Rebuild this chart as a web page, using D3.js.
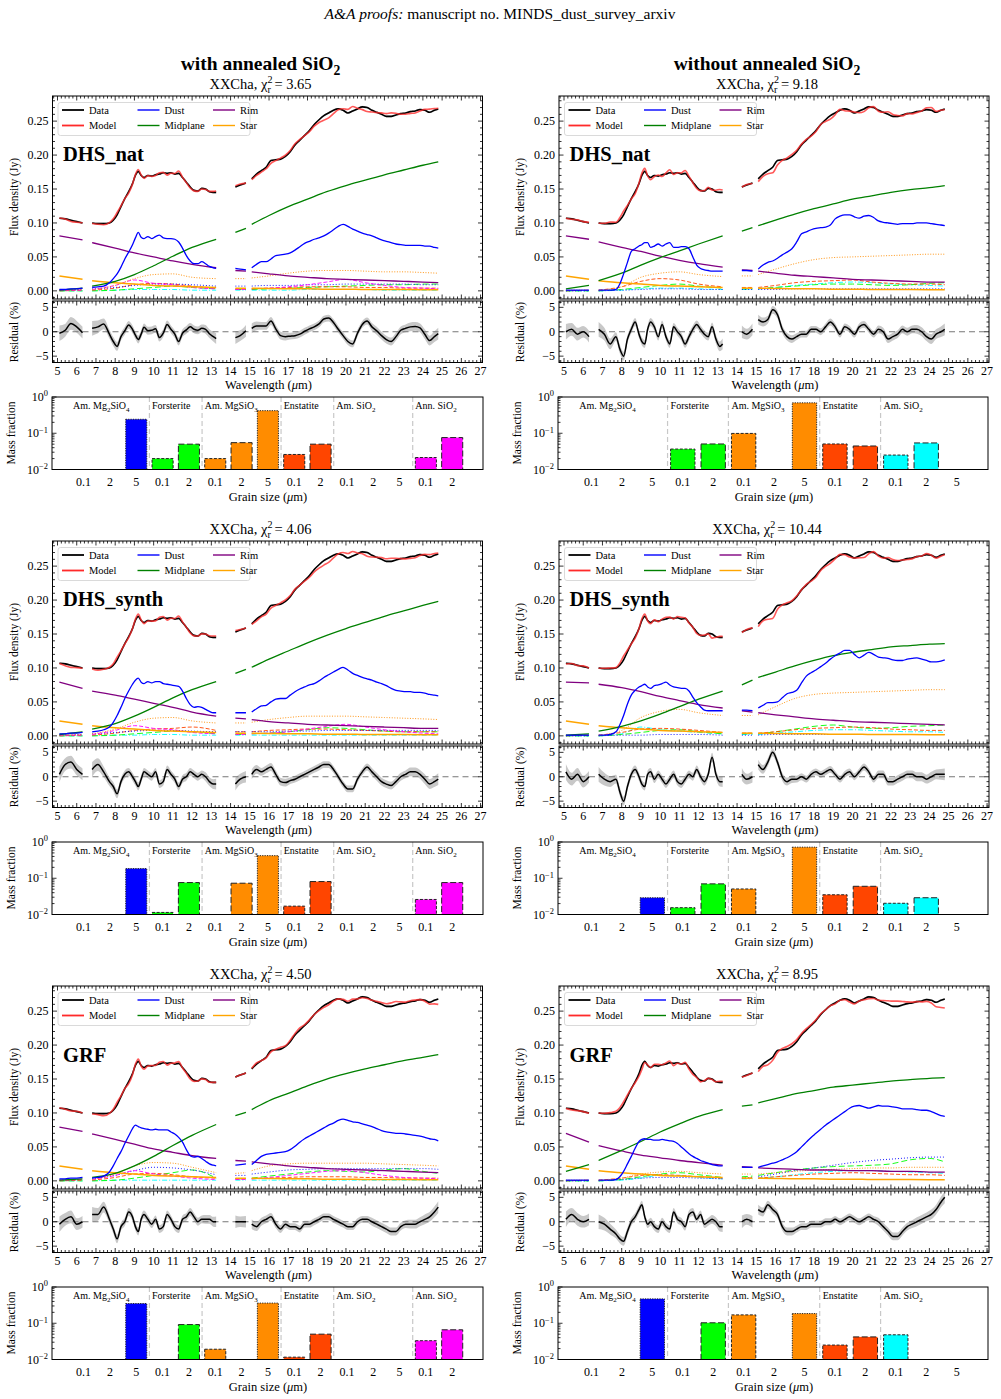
<!DOCTYPE html>
<html><head><meta charset="utf-8">
<script src="https://cdn.jsdelivr.net/npm/d3@7"></script>
<style>body{margin:0;background:#fff;} svg{display:block;font-family:"Liberation Serif","Times New Roman","DejaVu Serif",serif;}</style>
</head><body><svg id="c" width="1001" height="1399"></svg>
<script>
// ---------------- DATA ----------------
const wl = [5.1,5.4,5.7,6.0,6.3,
6.8,7.1,7.4,7.7,7.9,8.1,8.3,8.5,8.7,8.9,9.05,9.2,9.35,9.5,9.7,9.9,10.1,10.3,10.5,10.7,10.9,11.1,11.3,11.5,11.7,11.9,12.1,12.3,12.5,12.7,12.9,13.1,13.25,
14.25,14.5,14.8,
15.1,15.35,15.6,15.85,16.1,16.35,16.6,16.85,17.1,17.35,17.6,17.85,18.1,18.35,18.6,18.85,19.1,19.35,19.6,19.85,20.1,20.35,20.6,20.85,21.1,21.35,21.6,21.85,22.1,22.35,22.6,22.85,23.1,23.35,23.6,23.85,24.1,24.35,24.6,24.8];
const flux = [0.107,0.106,0.104,0.102,0.100,
0.100,0.099,0.099,0.100,0.104,0.112,0.124,0.136,0.146,0.158,0.170,0.176,0.170,0.167,0.170,0.169,0.171,0.172,0.174,0.173,0.174,0.172,0.173,0.167,0.160,0.153,0.148,0.147,0.151,0.150,0.146,0.145,0.145,
0.153,0.156,0.159,
0.165,0.172,0.177,0.182,0.192,0.193,0.194,0.198,0.205,0.215,0.222,0.229,0.236,0.245,0.252,0.258,0.262,0.266,0.268,0.266,0.262,0.265,0.268,0.271,0.270,0.266,0.263,0.260,0.257,0.257,0.259,0.261,0.262,0.264,0.265,0.267,0.266,0.263,0.266,0.268];
const fluxErr = 0.0015;
const resErr = [1.6,1.3,1.3,1.2,1.2,
1.5,1.3,1.1,0.9,0.9,0.9,0.8,0.8,0.8,0.8,0.8,0.8,0.8,0.8,0.8,0.8,0.8,0.8,0.8,0.8,0.8,0.8,0.8,0.8,0.8,0.8,0.8,0.8,0.8,0.9,0.9,1.0,1.1,
1.3,1.1,1.2,
1.0,0.9,0.8,0.8,0.8,0.8,0.8,0.8,0.7,0.7,0.7,0.7,0.7,0.7,0.7,0.7,0.7,0.7,0.7,0.7,0.7,0.7,0.7,0.7,0.7,0.8,0.8,0.8,0.8,0.8,0.8,0.8,0.8,0.9,0.9,0.9,1.0,1.0,1.1,1.2];

// residuals (%) per panel
const res_p1 = [-0.3,0.3,1.7,1.0,-0.2,
0.7,1.0,1.6,-0.5,-2.0,-3.0,-1.0,0.2,1.4,0.5,-0.7,-1.6,-0.5,0.9,0.2,0.3,0.6,-1.2,-0.3,1.5,0.5,-0.5,-2.0,-0.3,0.4,1.0,0.5,0.3,0.7,0.5,-0.4,-1.0,-1.4,
-1.2,-0.8,0.2,
0.7,1.2,1.2,1.2,2.2,0.6,-0.8,-1.0,-0.9,-0.8,-0.5,0.1,0.6,1.0,1.6,2.6,2.8,1.9,0.5,-0.8,-2.0,-2.5,-0.3,1.5,2.2,1.0,0.2,-0.8,-1.6,-2.0,-1.0,0.3,0.7,1.0,1.1,0.8,-0.5,-1.8,-1.0,-0.4];
const res_p2 = [0,0.5,-0.5,0,-1.0,
0.5,-0.5,-2.5,-1.0,-3.5,-5.0,-1.5,0.5,2.0,-0.5,-2.0,-2.5,0.5,2.0,1.0,-1.0,1.5,-1.0,-2.5,1.0,0.0,-1.0,-2.5,-1.0,0.5,1.5,0.5,-0.5,-1.0,1.0,-1.5,-3.0,-2.5,
0.0,-0.5,0.5,
2.5,2.0,2.5,4.5,3.5,0.5,-1.0,-1.5,-1.0,-0.5,-0.5,0.5,0.5,0.0,1.0,2.0,1.0,-0.5,1.0,0.5,-0.5,1.0,1.5,0.5,-0.5,0.5,0.0,-1.5,-1.0,-0.5,0.5,0.0,0.5,0.5,0.0,-1.0,-1.5,-0.5,0.0,0.5];
const res_p3 = [0.5,2.5,3.0,1.5,0.5,
1.5,2.5,1.0,-1.0,-2.0,-3.5,-1.0,0.5,1.0,0.0,-1.0,-2.0,-0.5,1.0,0.5,0.0,1.0,-1.5,-1.0,1.5,0.5,-0.5,-2.0,-0.5,0.0,1.0,0.5,0.0,0.5,0.0,-1.0,-1.5,-1.5,
-1.5,-0.5,0.0,
0.5,1.5,1.0,1.5,2.0,0.5,-1.0,-1.2,-0.8,-0.5,0.0,0.5,1.0,1.5,2.0,2.5,2.5,1.5,0.0,-1.5,-2.5,-2.5,-0.5,1.0,2.0,1.0,0.0,-1.0,-1.5,-1.8,-1.0,0.0,0.5,1.0,1.0,0.5,-0.5,-1.5,-1.0,-0.5];
const res_p4 = [1.0,-0.5,0.5,-1.0,0.0,
0.5,-0.5,-1.0,-0.5,-3.0,-5.0,-2.0,0.5,1.5,0.0,-1.5,-2.0,0.5,1.0,-0.5,0.5,-0.5,-1.5,-0.5,0.5,-1.0,-1.5,-0.5,0.5,0.0,1.5,0.0,-1.0,0.5,4.0,0.5,-1.0,-1.0,
0.5,-0.5,0.0,
2.5,1.5,3.0,5.0,3.0,0.0,-1.0,-0.5,-0.5,0.0,-0.5,0.5,1.0,0.5,1.0,1.5,0.5,-0.5,0.5,1.0,0.0,1.0,2.0,1.0,-0.5,0.5,0.5,-1.0,-1.0,-0.5,0.0,0.5,0.5,0.0,0.0,-0.5,0.0,0.5,0.5,0.5];
const res_p5 = [-0.5,0.5,1.0,-0.5,0.0,
1.5,1.5,3.0,0.5,-1.5,-3.5,-1.0,0.0,2.0,1.0,-1.0,-2.0,0.5,1.5,0.5,-0.5,0.5,-1.5,-1.0,1.5,0.5,-1.0,-1.5,0.5,1.0,2.0,1.0,0.0,0.5,0.5,0.5,0.0,0.0,
0.0,0.0,0.0,
-0.5,-1.0,0.0,0.5,1.0,-0.5,-1.5,-0.5,-1.0,-1.0,-1.5,-0.5,-0.5,0.0,0.5,1.0,1.0,0.5,0.0,-0.5,-1.0,-1.0,0.0,0.5,0.5,0.0,-0.5,-1.0,-1.5,-2.0,-2.0,-1.0,-0.5,-0.5,-0.5,0.0,0.5,1.0,2.0,3.0];
const res_p6 = [0.5,1.5,0.5,0.0,0.5,
0.0,-0.5,-1.5,-2.5,-3.5,-4.0,-2.0,0.0,1.0,2.5,3.5,1.0,-0.5,0.0,-1.0,-1.5,0.0,-1.0,-1.5,2.0,0.5,0.0,-1.0,1.5,2.0,0.5,1.5,-0.5,0.0,0.5,0.0,-1.0,-1.0,
0.0,0.5,0.0,
2.5,2.0,3.5,2.5,1.5,-1.0,-2.0,-2.0,-1.5,-1.0,-1.0,-0.5,-0.5,-0.5,0.0,0.0,0.5,0.0,0.5,1.0,0.5,0.0,0.5,1.0,0.5,0.0,-1.0,-2.0,-3.0,-3.0,-2.0,-1.0,-0.5,0.0,0.5,1.0,1.5,2.5,4.0,5.0];

// dust component (Jy) per panel, on wl grid
const dust_p1 = [0.002,0.002,0.003,0.003,0.004,
0.005,0.006,0.007,0.012,0.018,0.025,0.035,0.047,0.057,0.068,0.078,0.086,0.079,0.077,0.080,0.077,0.080,0.082,0.078,0.077,0.077,0.076,0.072,0.063,0.052,0.044,0.040,0.040,0.043,0.040,0.036,0.034,0.033,
0.033,0.032,0.031,
0.034,0.039,0.043,0.043,0.047,0.052,0.053,0.054,0.056,0.060,0.065,0.070,0.073,0.076,0.078,0.081,0.085,0.090,0.095,0.098,0.095,0.091,0.088,0.085,0.083,0.081,0.078,0.075,0.073,0.071,0.069,0.068,0.067,0.067,0.067,0.067,0.066,0.066,0.064,0.063];
const dust_p2 = [0.001,0.001,0.001,0.001,0.001,
0.001,0.001,0.001,0.002,0.010,0.025,0.042,0.058,0.062,0.066,0.068,0.071,0.071,0.064,0.066,0.069,0.066,0.069,0.071,0.064,0.064,0.065,0.065,0.062,0.050,0.038,0.033,0.031,0.030,0.029,0.029,0.029,0.029,
0.030,0.030,0.029,
0.032,0.038,0.042,0.044,0.048,0.053,0.057,0.062,0.072,0.084,0.087,0.090,0.092,0.093,0.094,0.097,0.106,0.110,0.112,0.112,0.109,0.107,0.110,0.111,0.108,0.103,0.101,0.100,0.099,0.098,0.099,0.099,0.099,0.100,0.100,0.100,0.099,0.098,0.097,0.096];
const dust_p3 = [0.003,0.003,0.004,0.004,0.005,
0.006,0.007,0.009,0.013,0.020,0.030,0.042,0.055,0.066,0.076,0.082,0.085,0.079,0.077,0.080,0.078,0.080,0.080,0.077,0.076,0.075,0.074,0.073,0.066,0.055,0.046,0.042,0.043,0.042,0.039,0.036,0.034,0.034,
0.034,0.034,0.034,
0.035,0.040,0.044,0.045,0.050,0.054,0.055,0.055,0.060,0.065,0.069,0.072,0.075,0.077,0.081,0.086,0.090,0.094,0.098,0.101,0.097,0.092,0.089,0.086,0.084,0.082,0.079,0.077,0.074,0.070,0.067,0.066,0.065,0.065,0.064,0.064,0.063,0.061,0.060,0.059];
const dust_p4 = [0.001,0.001,0.001,0.001,0.001,
0.001,0.001,0.002,0.006,0.016,0.030,0.047,0.060,0.067,0.072,0.074,0.076,0.072,0.070,0.074,0.075,0.077,0.079,0.075,0.072,0.071,0.070,0.070,0.066,0.057,0.049,0.043,0.038,0.037,0.037,0.037,0.037,0.037,
0.038,0.038,0.037,
0.041,0.045,0.049,0.049,0.050,0.056,0.062,0.064,0.067,0.078,0.088,0.093,0.097,0.102,0.107,0.113,0.118,0.122,0.126,0.126,0.120,0.115,0.119,0.123,0.120,0.116,0.115,0.114,0.112,0.111,0.111,0.113,0.114,0.115,0.113,0.111,0.109,0.109,0.110,0.112];
const dust_p5 = [0.003,0.003,0.004,0.004,0.005,
0.004,0.005,0.007,0.013,0.022,0.033,0.043,0.055,0.066,0.077,0.082,0.080,0.078,0.077,0.076,0.075,0.076,0.075,0.075,0.075,0.072,0.069,0.064,0.057,0.046,0.037,0.035,0.036,0.033,0.029,0.025,0.023,0.022,
0.023,0.024,0.025,
0.024,0.030,0.036,0.039,0.040,0.041,0.042,0.043,0.046,0.051,0.057,0.062,0.066,0.070,0.074,0.078,0.082,0.085,0.089,0.091,0.089,0.087,0.086,0.084,0.082,0.080,0.077,0.074,0.072,0.071,0.070,0.070,0.069,0.068,0.067,0.066,0.064,0.062,0.061,0.059];
const dust_p6 = [0.001,0.001,0.001,0.001,0.001,
0.001,0.001,0.001,0.002,0.006,0.014,0.025,0.036,0.048,0.058,0.061,0.062,0.061,0.061,0.060,0.060,0.061,0.060,0.059,0.058,0.055,0.050,0.045,0.040,0.036,0.033,0.030,0.028,0.026,0.024,0.023,0.022,0.022,
0.020,0.020,0.020,
0.020,0.022,0.024,0.026,0.028,0.031,0.034,0.038,0.043,0.050,0.057,0.064,0.070,0.076,0.082,0.087,0.092,0.097,0.102,0.107,0.110,0.111,0.109,0.107,0.109,0.111,0.110,0.110,0.109,0.108,0.106,0.106,0.106,0.105,0.104,0.104,0.102,0.099,0.096,0.095];

// smooth components on a coarse wavelength grid
const wlc = [5.1,6.3, 6.8,8,9,10,11,12,13.25, 14.25,14.8, 15.1,16,17,18,19,20,21,22,23,24,24.8];
const star = [0.022,0.017, 0.015,0.012,0.010,0.008,0.007,0.006,0.005, 0.004,0.004, 0.004,0.0035,0.003,0.003,0.0025,0.0025,0.002,0.002,0.002,0.0018,0.0017];
const mid_p1 = [0.001,0.004, 0.007,0.014,0.024,0.037,0.051,0.064,0.076, 0.086,0.092, 0.098,0.111,0.124,0.135,0.146,0.155,0.163,0.171,0.178,0.185,0.190];
const mid_p2 = [0.003,0.008, 0.015,0.026,0.038,0.049,0.059,0.069,0.081, 0.088,0.093, 0.096,0.104,0.113,0.121,0.128,0.135,0.140,0.145,0.149,0.152,0.155];
const mid_p3 = [0.002,0.006, 0.010,0.018,0.029,0.042,0.056,0.068,0.080, 0.092,0.098, 0.101,0.113,0.125,0.137,0.148,0.158,0.167,0.176,0.184,0.192,0.198];
const mid_p4 = [0.001,0.003, 0.007,0.014,0.022,0.032,0.043,0.054,0.066, 0.075,0.082, 0.086,0.094,0.103,0.111,0.118,0.123,0.127,0.131,0.133,0.135,0.136];
const mid_p5 = [0.001,0.003, 0.005,0.011,0.022,0.036,0.052,0.067,0.083, 0.096,0.101, 0.105,0.118,0.129,0.140,0.150,0.158,0.165,0.171,0.177,0.182,0.186];
const mid_p6 = [0.014,0.024, 0.030,0.045,0.058,0.072,0.084,0.095,0.105, 0.110,0.112, 0.115,0.121,0.128,0.133,0.138,0.141,0.144,0.147,0.149,0.151,0.152];
const rim_p1 = [0.081,0.075, 0.071,0.063,0.056,0.050,0.044,0.039,0.034, 0.030,0.029, 0.028,0.025,0.022,0.020,0.018,0.017,0.016,0.015,0.014,0.013,0.012];
const rim_p2 = [0.081,0.076, 0.072,0.064,0.058,0.051,0.045,0.040,0.035, 0.031,0.030, 0.029,0.026,0.023,0.021,0.019,0.017,0.016,0.015,0.014,0.013,0.013];
const rim_p3 = [0.079,0.070, 0.066,0.060,0.054,0.048,0.042,0.035,0.029, 0.026,0.025, 0.024,0.021,0.019,0.017,0.016,0.015,0.014,0.013,0.012,0.011,0.011];
const rim_p4 = [0.079,0.078, 0.076,0.071,0.065,0.058,0.052,0.046,0.041, 0.037,0.035, 0.034,0.031,0.028,0.025,0.023,0.021,0.020,0.019,0.018,0.017,0.016];
const rim_p5 = [0.079,0.073, 0.069,0.061,0.054,0.047,0.042,0.037,0.033, 0.030,0.029, 0.028,0.025,0.022,0.020,0.018,0.017,0.016,0.015,0.014,0.013,0.012];
const rim_p6 = [0.070,0.057, 0.052,0.044,0.038,0.034,0.030,0.027,0.023, 0.021,0.020, 0.019,0.018,0.017,0.016,0.016,0.015,0.015,0.014,0.014,0.013,0.013];
const odot_p1 = [0.001,0.002, 0.002,0.008,0.018,0.024,0.025,0.020,0.018, 0.018,0.018, 0.019,0.022,0.026,0.029,0.030,0.030,0.029,0.028,0.028,0.027,0.026];
const odot_p2 = [0.001,0.001, 0.001,0.006,0.020,0.026,0.028,0.024,0.021, 0.022,0.022, 0.024,0.032,0.040,0.046,0.049,0.050,0.051,0.052,0.053,0.054,0.054];
const odot_p3 = [0.001,0.002, 0.003,0.010,0.020,0.026,0.027,0.022,0.019, 0.019,0.019, 0.020,0.024,0.027,0.029,0.029,0.029,0.028,0.027,0.026,0.025,0.024];
const odot_p4 = [0.001,0.001, 0.001,0.008,0.027,0.036,0.039,0.034,0.030, 0.030,0.030, 0.031,0.043,0.055,0.061,0.063,0.064,0.065,0.066,0.067,0.068,0.068];
const odot_p5 = [0.001,0.002, 0.002,0.010,0.022,0.027,0.026,0.020,0.012, 0.011,0.012, 0.015,0.022,0.025,0.026,0.026,0.026,0.026,0.025,0.024,0.023,0.022];
const odot_p6 = [0.001,0.001, 0.001,0.004,0.010,0.013,0.014,0.012,0.010, 0.010,0.010, 0.010,0.012,0.014,0.016,0.017,0.018,0.019,0.019,0.020,0.020,0.020];
// minor dust species contributions
const mag_p1 = [0.001,0.001, 0.002,0.008,0.016,0.011,0.009,0.005,0.003, 0.002,0.002, 0.003,0.004,0.006,0.009,0.013,0.017,0.012,0.008,0.005,0.004,0.003];
const blu_p1 = [0.001,0.002, 0.003,0.005,0.008,0.010,0.010,0.009,0.007, 0.007,0.007, 0.007,0.008,0.008,0.009,0.009,0.010,0.010,0.010,0.010,0.009,0.009];
const grn_p1 = [0,0, 0,0.001,0.003,0.005,0.007,0.005,0.003, 0.002,0.002, 0.002,0.003,0.004,0.005,0.006,0.007,0.008,0.009,0.009,0.010,0.010];
const red_p1 = [0,0.001, 0.001,0.004,0.009,0.011,0.010,0.007,0.004, 0.003,0.003, 0.003,0.004,0.005,0.006,0.006,0.006,0.005,0.005,0.004,0.004,0.004];
const cyn_p1 = [0,0, 0,0.001,0.002,0.002,0.002,0.001,0.001, 0.001,0.001, 0.001,0.001,0.001,0.002,0.002,0.002,0.002,0.001,0.001,0.001,0.001];
const mag_p2 = null;
const blu_p2 = [0,0, 0,0.001,0.002,0.003,0.003,0.002,0.002, 0.002,0.002, 0.002,0.002,0.003,0.003,0.003,0.003,0.003,0.003,0.003,0.003,0.003];
const grn_p2 = [0,0, 0,0.002,0.005,0.008,0.010,0.007,0.004, 0.003,0.003, 0.003,0.005,0.007,0.009,0.010,0.010,0.009,0.008,0.009,0.011,0.012];
const red_p2 = [0,0.001, 0.001,0.006,0.014,0.018,0.016,0.010,0.006, 0.005,0.005, 0.005,0.008,0.012,0.014,0.015,0.016,0.013,0.011,0.010,0.010,0.009];
const cyn_p2 = [0,0, 0,0.001,0.003,0.004,0.004,0.003,0.002, 0.002,0.002, 0.003,0.005,0.008,0.010,0.012,0.013,0.012,0.010,0.009,0.008,0.007];
const mag_p3 = [0.001,0.001, 0.002,0.008,0.015,0.011,0.009,0.005,0.003, 0.002,0.002, 0.003,0.004,0.006,0.010,0.014,0.017,0.013,0.009,0.006,0.004,0.003];
const blu_p3 = [0.001,0.002, 0.003,0.005,0.007,0.008,0.008,0.007,0.006, 0.006,0.006, 0.006,0.006,0.007,0.007,0.008,0.008,0.008,0.008,0.008,0.008,0.008];
const grn_p3 = [0,0, 0,0.001,0.003,0.005,0.007,0.006,0.003, 0.002,0.002, 0.003,0.004,0.006,0.009,0.012,0.011,0.009,0.007,0.006,0.006,0.006];
const red_p3 = [0,0.001, 0.001,0.004,0.008,0.010,0.011,0.013,0.008, 0.006,0.006, 0.006,0.008,0.009,0.010,0.010,0.009,0.008,0.007,0.006,0.006,0.006];
const cyn_p3 = [0,0, 0,0.001,0.001,0.002,0.002,0.001,0.001, 0.001,0.001, 0.001,0.001,0.001,0.001,0.001,0.001,0.001,0.001,0.001,0.001,0.001];
const mag_p4 = null;
const blu_p4 = [0,0, 0,0.001,0.001,0.002,0.002,0.002,0.001, 0.001,0.001, 0.001,0.002,0.002,0.002,0.002,0.002,0.002,0.002,0.002,0.002,0.002];
const grn_p4 = [0,0, 0,0.002,0.005,0.008,0.009,0.006,0.003, 0.003,0.003, 0.003,0.006,0.010,0.014,0.016,0.013,0.011,0.012,0.014,0.015,0.016];
const red_p4 = [0,0.001, 0.001,0.005,0.010,0.011,0.010,0.008,0.005, 0.004,0.004, 0.004,0.006,0.009,0.011,0.012,0.013,0.012,0.010,0.009,0.008,0.008];
const cyn_p4 = [0,0, 0,0.003,0.013,0.009,0.007,0.005,0.003, 0.002,0.002, 0.002,0.004,0.006,0.008,0.009,0.009,0.008,0.007,0.006,0.006,0.005];
const mag_p5 = [0.001,0.002, 0.002,0.008,0.015,0.010,0.007,0.004,0.002, 0.002,0.002, 0.003,0.005,0.008,0.011,0.014,0.015,0.012,0.008,0.005,0.004,0.003];
const blu_p5 = [0.001,0.002, 0.003,0.008,0.015,0.020,0.019,0.016,0.009, 0.008,0.008, 0.010,0.013,0.016,0.017,0.018,0.018,0.018,0.018,0.018,0.018,0.017];
const grn_p5 = [0,0, 0,0.001,0.004,0.008,0.012,0.016,0.004, 0.003,0.003, 0.004,0.007,0.010,0.013,0.015,0.014,0.013,0.016,0.018,0.014,0.011];
const red_p5 = [0,0.001, 0.001,0.005,0.010,0.011,0.009,0.006,0.004, 0.003,0.003, 0.003,0.004,0.005,0.006,0.006,0.006,0.005,0.005,0.004,0.004,0.004];
const cyn_p5 = [0,0, 0,0.001,0.001,0.001,0.001,0.001,0.001, 0.001,0.001, 0.001,0.001,0.001,0.001,0.001,0.001,0.001,0.001,0.001,0.001,0.001];
const mag_p6 = null;
const blu_p6 = [0,0, 0,0.002,0.004,0.005,0.005,0.004,0.003, 0.004,0.005, 0.006,0.010,0.015,0.019,0.023,0.027,0.030,0.032,0.034,0.035,0.035];
const grn_p6 = [0,0, 0,0.002,0.006,0.010,0.012,0.009,0.005, 0.006,0.007, 0.008,0.012,0.016,0.019,0.021,0.022,0.023,0.025,0.031,0.033,0.028];
const red_p6 = [0,0.001, 0.001,0.004,0.008,0.009,0.008,0.006,0.004, 0.004,0.004, 0.004,0.006,0.008,0.010,0.011,0.012,0.011,0.010,0.009,0.009,0.008];
const cyn_p6 = [0,0, 0,0.001,0.004,0.008,0.008,0.005,0.003, 0.003,0.003, 0.004,0.006,0.009,0.012,0.014,0.015,0.015,0.014,0.013,0.012,0.011];

// mass fractions
const speciesWith = ["Am. Mg_{2}SiO_{4}","Forsterite","Am. MgSiO_{3}","Enstatite","Am. SiO_{2}","Ann. SiO_{2}"];
const speciesSizes = [3,2,3,2,3,2];
const grainWith = ["0.1","2","5","0.1","2","0.1","2","5","0.1","2","0.1","2","5","0.1","2"];
const grainWithout = ["0.1","2","5","0.1","2","0.1","2","5","0.1","2","0.1","2","5"];
const mf_p1 = [0,0,0.243, 0.020,0.050, 0.020,0.055,0.42, 0.026,0.050, 0,0,0, 0.0214,0.076];
const mf_p2 = [0,0,0, 0.0366,0.0506, 0.099,0,0.69, 0.0506,0.0445, 0.025,0.054,0];
const mf_p3 = [0,0,0.185, 0.0114,0.076, 0,0.073,0.42, 0.017,0.081, 0,0,0, 0.026,0.076];
const mf_p4 = [0,0,0.029, 0.0154,0.070, 0.0506,0,0.72, 0.035,0.060, 0.0204,0.029,0];
const mf_p5 = [0,0,0.35, 0,0.092, 0.0192,0,0.36, 0.0116,0.050, 0,0,0, 0.033,0.066];
const mf_p6 = [0,0,0.47, 0,0.103, 0.17,0,0.185, 0.025,0.042, 0.048,0,0];

const chi2 = ["3.65","9.18","4.06","10.44","4.50","8.95"];
const modelNames = ["DHS_nat","DHS_nat","DHS_synth","DHS_synth","GRF","GRF"];
const columnTitles = ["with annealed SiO_{2}","without annealed SiO_{2}"];
const legendLabels = ["Data","Model","Dust","Midplane","Rim","Star"];

// ---------------- DRAWING ----------------
const svg = d3.select("#c");
const colors = {data:"#000000", model:"#ff2a2a", dust:"#0000ff", mid:"#008000", rim:"#800080", star:"#ffa500",
  odot:"#ff8c00", mag:"#ff00ff", blu:"#0000ff", grn:"#00ff00", red:"#ff4500", cyn:"#00ffff"};
const speciesColors = ["#0000ff","#00ff00","#ff8c00","#ff4500","#00ffff","#ff00ff"];
const segRanges = [[5,6.5],[6.6,13.5],[14,14.9],[15,25]];
const segOf = w => segRanges.findIndex(r => w>=r[0] && w<=r[1]);

function segments(xs, ys) {
  const out = segRanges.map(()=>[]);
  xs.forEach((w,i)=>{ const s=segOf(w); if(s>=0) out[s].push([w, ys[i]]); });
  return out.filter(a=>a.length>1);
}

function rich(parent, x, y, str, size, opts={}) {
  const t = parent.append("text").attr("x",x).attr("y",y).attr("font-size",size)
    .attr("text-anchor", opts.anchor||"start");
  if (opts.weight) t.attr("font-weight", opts.weight);
  if (opts.transform) t.attr("transform", opts.transform);
  const tokens = str.split(/([_^]\{[^}]*\})/).filter(s=>s.length);
  let cur = 0, lastSupW = null;
  tokens.forEach(tok=>{
    let kind='n', txt=tok;
    if (tok[0]==='_' && tok[1]==='{') {kind='sub'; txt=tok.slice(2,-1);}
    else if (tok[0]==='^' && tok[1]==='{') {kind='sup'; txt=tok.slice(2,-1);}
    const target = kind==='sub' ? 0.25*size : kind==='sup' ? -0.38*size : 0;
    const ts = t.append("tspan").attr("dy", target-cur).text(txt);
    if (kind!=='n') ts.attr("font-size", size*0.7);
    if (kind==='sub' && lastSupW!=null) ts.attr("dx", -lastSupW);
    lastSupW = kind==='sup' ? ts.node().getComputedTextLength() : null;
    cur = target;
  });
  return t;
}

function ticks(g, xs, ys, box, xMaj, xMin, yMaj, yMin, L=4.5, l=2.5, sides={t:1,b:1,l:1,r:1}) {
  const {x0,y0,w,h} = box, p=[];
  const inX = v => v>=xs.domain()[0] && v<=xs.domain()[1];
  const inY = v => v>=Math.min(...ys.domain()) && v<=Math.max(...ys.domain());
  xMaj.filter(inX).forEach(v=>{const px=xs(v); if(sides.b)p.push(`M${px},${y0+h}v${-L}`); if(sides.t)p.push(`M${px},${y0}v${L}`);});
  xMin.filter(inX).forEach(v=>{const px=xs(v); if(sides.b)p.push(`M${px},${y0+h}v${-l}`); if(sides.t)p.push(`M${px},${y0}v${l}`);});
  yMaj.filter(inY).forEach(v=>{const py=ys(v); if(sides.l)p.push(`M${x0},${py}h${L}`); if(sides.r)p.push(`M${x0+w},${py}h${-L}`);});
  yMin.filter(inY).forEach(v=>{const py=ys(v); if(sides.l)p.push(`M${x0},${py}h${l}`); if(sides.r)p.push(`M${x0+w},${py}h${-l}`);});
  g.append("path").attr("d",p.join("")).attr("stroke","#000").attr("stroke-width",0.8).attr("fill","none");
}

const hdr = svg.append("text").attr("x",500).attr("y",19).attr("text-anchor","middle").attr("font-size",15.5);
hdr.append("tspan").attr("font-style","italic").text("A&A proofs:");
hdr.append("tspan").text(" manuscript no. MINDS_dust_survey_arxiv");

const colSpecX = [52.5, 559];
const colBarX = [52, 558];
const ROW = 445;
const xMajW = d3.range(5,28);
const xMinW = d3.range(24,136).filter(i=>i%5!==0).map(i=>i/5);

columnTitles.forEach((t,c)=> rich(svg, colSpecX[c]+208, 70, t, 19.5, {anchor:"middle", weight:"bold"}));

const panelData = [
 {res:res_p1,dust:dust_p1,mid:mid_p1,rim:rim_p1,odot:odot_p1,mag:mag_p1,blu:blu_p1,grn:grn_p1,red:red_p1,cyn:cyn_p1,mf:mf_p1},
 {res:res_p2,dust:dust_p2,mid:mid_p2,rim:rim_p2,odot:odot_p2,mag:mag_p2,blu:blu_p2,grn:grn_p2,red:red_p2,cyn:cyn_p2,mf:mf_p2},
 {res:res_p3,dust:dust_p3,mid:mid_p3,rim:rim_p3,odot:odot_p3,mag:mag_p3,blu:blu_p3,grn:grn_p3,red:red_p3,cyn:cyn_p3,mf:mf_p3},
 {res:res_p4,dust:dust_p4,mid:mid_p4,rim:rim_p4,odot:odot_p4,mag:mag_p4,blu:blu_p4,grn:grn_p4,red:red_p4,cyn:cyn_p4,mf:mf_p4},
 {res:res_p5,dust:dust_p5,mid:mid_p5,rim:rim_p5,odot:odot_p5,mag:mag_p5,blu:blu_p5,grn:grn_p5,red:red_p5,cyn:cyn_p5,mf:mf_p5},
 {res:res_p6,dust:dust_p6,mid:mid_p6,rim:rim_p6,odot:odot_p6,mag:mag_p6,blu:blu_p6,grn:grn_p6,red:red_p6,cyn:cyn_p6,mf:mf_p6},
];

panelData.forEach((P, k)=>{
  const row = Math.floor(k/2), col = k%2, annealed = col===0;
  const dy = row*ROW;
  const g = svg.append("g");
  // ---------- spectrum ----------
  const sb = {x0:colSpecX[col], y0:96+dy, w:430, h:203};
  const x = d3.scaleLinear().domain([4.74,27.1]).range([sb.x0, sb.x0+sb.w]);
  const y = d3.scaleLinear().domain([-0.012,0.287]).range([sb.y0+sb.h, sb.y0]);
  const clipId = "clip"+k;
  svg.append("clipPath").attr("id",clipId).append("rect").attr("x",sb.x0).attr("y",sb.y0).attr("width",sb.w).attr("height",sb.h);
  const pg = g.append("g").attr("clip-path",`url(#${clipId})`);
  const line = d3.line().x(d=>x(d[0])).y(d=>y(d[1])).curve(d3.curveMonotoneX);
  const drawSeries = (xs, ys, color, width, dash, opacity=1) => {
    segments(xs, ys).forEach(s=> pg.append("path").attr("d",line(s)).attr("fill","none")
      .attr("stroke",color).attr("stroke-width",width).attr("stroke-dasharray",dash||null).attr("opacity",opacity));
  };
  // minor species
  [["cyn","5,2,1,2"],["grn","6,3"],["red","4,2"],["blu","1,2"],["mag","4,2"]].forEach(([key,dash])=>{
    if (P[key]) drawSeries(wlc, P[key], colors[key], 0.9, dash);
  });
  drawSeries(wlc, P.odot, colors.odot, 0.9, "1,1.6");
  drawSeries(wlc, star, colors.star, 1.5);
  drawSeries(wlc, P.rim, colors.rim, 1.3);
  drawSeries(wlc, P.mid, colors.mid, 1.3);
  drawSeries(wl, P.dust, colors.dust, 1.3);
  // data envelope + data + model
  const area = d3.area().x(d=>x(d[0])).y0(d=>y(d[1]-fluxErr)).y1(d=>y(d[1]+fluxErr)).curve(d3.curveMonotoneX);
  segments(wl, flux).forEach(s=> pg.append("path").attr("d",area(s)).attr("fill","#999").attr("opacity",0.4));
  drawSeries(wl, flux, colors.data, 1.6);
  const model = flux.map((f,i)=> f*(1 - P.res[i]/100));
  drawSeries(wl, model, colors.model, 1.6, null, 0.78);
  g.append("rect").attr("x",sb.x0).attr("y",sb.y0).attr("width",sb.w).attr("height",sb.h).attr("fill","none").attr("stroke","#000").attr("stroke-width",1);
  ticks(g, x, y, sb, xMajW, xMinW, [0,0.05,0.1,0.15,0.2,0.25], d3.range(-1,29).filter(i=>i%5!==0).map(i=>i/100));
  [0,0.05,0.1,0.15,0.2,0.25].forEach(v=> g.append("text").attr("x",sb.x0-4).attr("y",y(v)+4).attr("text-anchor","end").attr("font-size",12).text(v.toFixed(2)));
  g.append("text").attr("transform",`translate(${sb.x0-35},${sb.y0+101}) rotate(-90)`).attr("text-anchor","middle").attr("font-size",11.5).text("Flux density (Jy)");
  rich(g, sb.x0+208, 89+dy, "XXCha, χ^{2}_{r} = "+chi2[k], 14.5, {anchor:"middle"});
  g.append("text").attr("x",sb.x0+10.5).attr("y",sb.y0+(row===2?76:65)).attr("font-size",20.5).attr("font-weight","bold").text(modelNames[k]);
  // legend
  const lg = g.append("g");
  lg.append("rect").attr("x",sb.x0+5.5).attr("y",sb.y0+6.5).attr("width",192).attr("height",33).attr("rx",2.5)
    .attr("fill","#fff").attr("fill-opacity",0.85).attr("stroke","#d0d0d0").attr("stroke-width",0.8);
  const legColors = [colors.data, colors.model, colors.dust, colors.mid, colors.rim, colors.star];
  legendLabels.forEach((lab,i)=>{
    const cx = sb.x0 + 9.5 + Math.floor(i/2)*75.5, cy = sb.y0 + 14 + (i%2)*15.5;
    lg.append("line").attr("x1",cx).attr("x2",cx+22).attr("y1",cy).attr("y2",cy).attr("stroke",legColors[i]).attr("stroke-width",i<2?1.8:1.4);
    lg.append("text").attr("x",cx+27).attr("y",cy+3.8).attr("font-size",10.5).text(lab);
  });

  // ---------- residuals ----------
  const rb = {x0:colSpecX[col], y0:301+dy, w:430, h:61.5};
  const yr = d3.scaleLinear().domain([-6.3,6.3]).range([rb.y0+rb.h, rb.y0]);
  const rclip = "rclip"+k;
  svg.append("clipPath").attr("id",rclip).append("rect").attr("x",rb.x0).attr("y",rb.y0).attr("width",rb.w).attr("height",rb.h);
  const rg = g.append("g").attr("clip-path",`url(#${rclip})`);
  const rarea = d3.area().x(d=>x(d[0])).y0(d=>yr(d[1]-d[2])).y1(d=>yr(d[1]+d[2])).curve(d3.curveMonotoneX);
  const rline = d3.line().x(d=>x(d[0])).y(d=>yr(d[1])).curve(d3.curveMonotoneX);
  const rsegs = segRanges.map(()=>[]);
  wl.forEach((w,i)=>{const s=segOf(w); rsegs[s].push([w,P.res[i],resErr[i]]);});
  rsegs.filter(s=>s.length>1).forEach(s=>{
    rg.append("path").attr("d",rarea(s)).attr("fill","#c8c8c8");
  });
  rg.append("line").attr("x1",rb.x0).attr("x2",rb.x0+rb.w).attr("y1",yr(0)).attr("y2",yr(0)).attr("stroke","#777").attr("stroke-width",1.2).attr("stroke-dasharray","6,4");
  rsegs.filter(s=>s.length>1).forEach(s=>{
    rg.append("path").attr("d",rline(s)).attr("fill","none").attr("stroke","#000").attr("stroke-width",1.5);
  });
  g.append("rect").attr("x",rb.x0).attr("y",rb.y0).attr("width",rb.w).attr("height",rb.h).attr("fill","none").attr("stroke","#000").attr("stroke-width",1);
  ticks(g, x, yr, rb, xMajW, xMinW, [-5,0,5], d3.range(-6,7).filter(v=>v%5!==0));
  [[-5,"−5"],[0,"0"],[5,"5"]].forEach(([v,s])=> g.append("text").attr("x",rb.x0-4).attr("y",yr(v)+4).attr("text-anchor","end").attr("font-size",12).text(s));
  xMajW.forEach(v=> g.append("text").attr("x",x(v)).attr("y",rb.y0+rb.h+12).attr("text-anchor","middle").attr("font-size",12).text(v));
  const wt = g.append("text").attr("x",sb.x0+216).attr("y",rb.y0+rb.h+26).attr("text-anchor","middle").attr("font-size",12.5);
  wt.append("tspan").text("Wavelength (");
  wt.append("tspan").attr("font-style","italic").text("μ");
  wt.append("tspan").text("m)");
  g.append("text").attr("transform",`translate(${rb.x0-35},${rb.y0+31}) rotate(-90)`).attr("text-anchor","middle").attr("font-size",11.5).text("Residual (%)");

  // ---------- mass fractions ----------
  const nS = annealed ? 6 : 5;
  const grains = annealed ? grainWith : grainWithout;
  const bb = {x0:colBarX[col], y0:397+dy, w:annealed?431:430, h:72.5};
  const xb = d3.scaleLinear().domain(annealed?[-1.2,15.17]:[-1.1,13.03]).range([bb.x0, bb.x0+bb.w]);
  const yb = d3.scaleLog().domain([0.01,1]).range([bb.y0+bb.h, bb.y0]);
  const bg = g.append("g");
  const barSpecies = [];
  for (let s=0;s<nS;s++){ for(let j=0;j<speciesSizes[s];j++) barSpecies.push(s); }
  let idx = 0;
  for (let s=0;s<nS;s++){
    const left = idx - 0.5;
    rich(bg, xb(left+0.1), bb.y0+12, speciesWith[s], 10, {});
    if (s>0) bg.append("line").attr("x1",xb(left)).attr("x2",xb(left)).attr("y1",bb.y0).attr("y2",bb.y0+bb.h)
      .attr("stroke","#c8c8c8").attr("stroke-width",1.2).attr("stroke-dasharray","5,3");
    idx += speciesSizes[s];
  }
  const dashFor = {"0.1":"3,1.6","2":"6,2.5","5":"1.2,1.2"};
  P.mf.forEach((v,i)=>{
    if (v > 0.01) {
      bg.append("rect").attr("x",xb(i-0.4)).attr("width",xb(i+0.4)-xb(i-0.4)).attr("y",yb(v)).attr("height",yb(0.01)-yb(v))
        .attr("fill",speciesColors[barSpecies[i]]).attr("stroke","#222").attr("stroke-width",1).attr("stroke-dasharray",dashFor[grains[i]]);
    }
  });
  g.append("rect").attr("x",bb.x0).attr("y",bb.y0).attr("width",bb.w).attr("height",bb.h).attr("fill","none").attr("stroke","#000").attr("stroke-width",1);
  const minors = [];
  [0.01,0.1].forEach(d=> d3.range(2,10).forEach(m=> minors.push(m*d)));
  ticks(g, xb, yb, bb, [], [], [0.01,0.1,1], minors, 4.5, 2.5, {l:1});
  [[1,"0"],[0.1,"−1"],[0.01,"−2"]].forEach(([v,e])=> rich(g, bb.x0-4, yb(v)+4, "10^{"+e+"}", 12, {anchor:"end"}));
  grains.forEach((gs,i)=> g.append("text").attr("x",xb(i)).attr("y",bb.y0+bb.h+16).attr("text-anchor","middle").attr("font-size",12).text(gs));
  const gt = g.append("text").attr("x",bb.x0+216).attr("y",bb.y0+bb.h+31).attr("text-anchor","middle").attr("font-size",12.5);
  gt.append("tspan").text("Grain size (");
  gt.append("tspan").attr("font-style","italic").text("μ");
  gt.append("tspan").text("m)");
  g.append("text").attr("transform",`translate(${bb.x0-37},${bb.y0+36}) rotate(-90)`).attr("text-anchor","middle").attr("font-size",11.5).text("Mass fraction");
});
</script></body></html>
